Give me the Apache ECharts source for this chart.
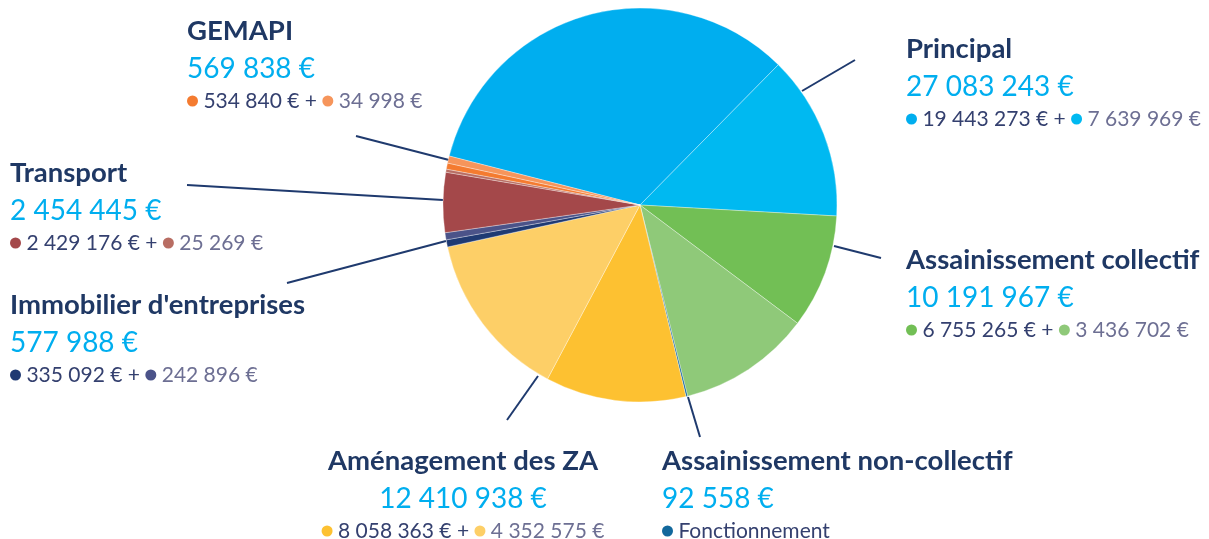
<!DOCTYPE html>
<html>
<head>
<meta charset="utf-8">
<script src="https://cdn.jsdelivr.net/npm/echarts@6/dist/echarts.min.js"></script>
<style>
  html, body { margin: 0; padding: 0; background: #fff; }
  #chart { width: 1209px; height: 539px; }
</style>
</head>
<body>
<div id="chart"></div>
<script>
// slices, clockwise starting from the GEMAPI edge of the big blue slice
// shares (degrees of the circle)
const sliceShares = [120.2, 48.6, 33.7, 39.1, 0.5, 41.5, 49.7, 2.1, 2.1, 17.7, 0.9, 1.8, 2.1];
const sliceColors = ['#00aeef', '#00b9f1', '#72bf55', '#8fc979', '#12689c', '#fdc131', '#fdcf67',
                     '#1f3a73', '#4b5389', '#a4484a', '#b86d63', '#f47b30', '#f6955b'];
const sliceGroup = [0, 0, 1, 1, 2, 3, 3, 4, 4, 5, 5, 6, 6];

// groups (labels)
const groupNames = ['Principal', 'Assainissement collectif', 'Assainissement non-collectif',
                    'Aménagement des ZA', "Immobilier d'entreprises", 'Transport', 'GEMAPI'];
const groupTotals = ['27 083 243 €', '10 191 967 €', '92 558 €', '12 410 938 €',
                     '577 988 €', '2 454 445 €', '569 838 €'];
const groupParts = [
  ['19 443 273 €', '7 639 969 €'],
  ['6 755 265 €', '3 436 702 €'],
  ['Fonctionnement'],
  ['8 058 363 €', '4 352 575 €'],
  ['335 092 €', '242 896 €'],
  ['2 429 176 €', '25 269 €'],
  ['534 840 €', '34 998 €']
];

const NAVY = '#1f3864';
const LINE = '#1f3a6e';

const groupValues = groupNames.map((n, g) =>
  sliceShares.reduce((s, v, i) => sliceGroup[i] === g ? s + v : s, 0));

const dotRich = {};
sliceColors.forEach((c, i) => {
  dotRich['c' + i] = { width: 11, height: 11, borderRadius: 5.5, backgroundColor: c };
});

const labelText = (g) => {
  const idx = sliceGroup.map((gg, i) => gg === g ? i : -1).filter(i => i >= 0);
  const parts = groupParts[g];
  let sub = '{c' + idx[0] + '|}{a| ' + parts[0] + '}';
  if (parts.length > 1) {
    sub += '{a| + }{c' + idx[1] + '|}{b| ' + parts[1] + '}';
  }
  return '{t|' + groupNames[g] + '}\n{v|' + groupTotals[g] + '}\n' + sub;
};

// label places and leader lines
const labelSpots = [
  {x: 906, y: 29, align: 'left', line: [[802, 91], [855, 60]]},
  {x: 906, y: 240, align: 'left', line: [[834, 246], [881, 258]]},
  {x: 662, y: 441, align: 'left', line: [[688, 397], [700, 437]]},
  {x: 463, y: 441, align: 'center', line: [[538, 376], [507, 420]]},
  {x: 10, y: 285, align: 'left', line: [[446, 241], [287, 283]]},
  {x: 10, y: 153, align: 'left', line: [[443, 200], [187, 185]]},
  {x: 187, y: 11, align: 'left', line: [[449, 160], [356, 136]]}
];

const chart = echarts.init(document.getElementById('chart'), null, {renderer: 'canvas'});

const option = {
  animation: false,
  series: [
    {
      type: 'pie',
      center: [640, 205],
      radius: 197,
      startAngle: 165.6,
      clockwise: true,
      silent: true,
      label: {show: false},
      labelLine: {show: false},
      itemStyle: {borderColor: 'rgba(255,255,255,0.55)', borderWidth: 0.6},
      data: sliceShares.map((v, i) => ({value: v, itemStyle: {color: sliceColors[i]}}))
    },
    {
      type: 'pie',
      center: [640, 205],
      radius: 197,
      startAngle: 165.6,
      clockwise: true,
      silent: true,
      avoidLabelOverlap: false,
      itemStyle: {color: 'rgba(0,0,0,0)'},
      label: {
        show: true,
        position: 'outside',
        fontFamily: 'Lato',
        formatter: p => labelText(p.dataIndex),
        rich: Object.assign({
          t: {fontFamily: 'Lato', fontWeight: 'bold', fontSize: 27.5, color: NAVY, lineHeight: 40},
          v: {fontFamily: 'Lato', fontSize: 28, color: '#00aeef', lineHeight: 36},
          a: {fontFamily: 'Lato', fontSize: 21, color: '#34406f', lineHeight: 28},
          b: {fontFamily: 'Lato', fontSize: 21, color: '#6d6f93', lineHeight: 28}
        }, dotRich)
      },
      labelLine: {show: true, lineStyle: {color: LINE, width: 2}},
      labelLayout: p => {
        const s = labelSpots[p.dataIndex];
        const a = s.line[0], b = s.line[1];
        return {
          x: s.x, y: s.y, align: s.align, verticalAlign: 'top',
          labelLinePoints: [a, [(a[0] + b[0]) / 2, (a[1] + b[1]) / 2], b]
        };
      },
      data: groupValues.map((v, g) => ({name: groupNames[g], value: v}))
    }
  ]
};

chart.setOption(option);
</script>
</body>
</html>
